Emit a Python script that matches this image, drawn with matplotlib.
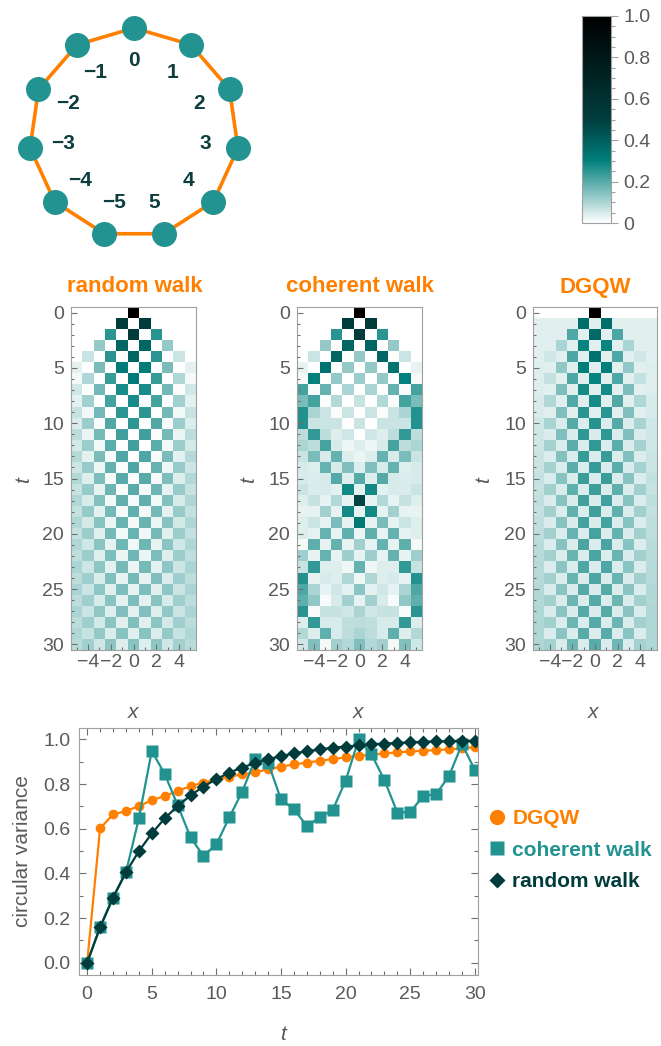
import numpy as np
import matplotlib.pyplot as plt
from matplotlib.colors import LinearSegmentedColormap
from matplotlib.cm import ScalarMappable
from matplotlib.lines import Line2D
from matplotlib.ticker import MultipleLocator, FormatStrFormatter

plt.rcParams['font.family'] = ['Liberation Sans', 'DejaVu Sans']

W, H = 661, 1046

ORANGE = '#ff8000'
TEAL = '#229390'
DARK = '#003c3c'
GRAY = '#5a5a5a'
FRAME = '#a0a0a0'

# sites of the 11-cycle
sites = [-5, -4, -3, -2, -1, 0, 1, 2, 3, 4, 5]

# occupation probabilities for x = 0..5 (the profiles are symmetric in x)
random_half = [
    [1, 0, 0, 0, 0, 0],
    [0, .5, 0, 0, 0, 0],
    [.5, 0, .25, 0, 0, 0],
    [0, .375, 0, .125, 0, 0],
    [.375, 0, .25, 0, .0625, 0],
    [0, .3125, 0, .1563, 0, .0313],
    [.3125, 0, .2344, 0, .0938, .0156],
    [0, .2734, 0, .1641, .0078, .0547],
    [.2734, 0, .2188, .0039, .1094, .0313],
    [0, .2461, .0020, .1641, .0176, .0703],
    [.2461, .0010, .2051, .0098, .1172, .0439],
    [.0010, .2256, .0054, .1611, .0269, .0806],
    [.2256, .0032, .1934, .0161, .1208, .0537],
    [.0032, .2095, .0096, .1571, .0349, .0873],
    [.2095, .0064, .1833, .0223, .1222, .0611],
    [.0064, .1964, .0143, .1527, .0417, .0917],
    [.1964, .0104, .1746, .0280, .1222, .0667],
    [.0104, .1855, .0192, .1484, .0474, .0944],
    [.1855, .0148, .1669, .0333, .1214, .0709],
    [.0148, .1762, .0240, .1442, .0521, .0962],
    [.1762, .0194, .1602, .0381, .1202, .0741],
    [.0194, .1682, .0288, .1402, .0561, .0972],
    [.1682, .0241, .1542, .0424, .1187, .0766],
    [.0241, .1612, .0333, .1364, .0595, .0977],
    [.1612, .0287, .1488, .0464, .1170, .0786],
    [.0287, .1550, .0375, .1329, .0625, .0978],
    [.1550, .0331, .1440, .0500, .1154, .0802],
    [.0331, .1495, .0416, .1297, .0651, .0978],
    [.1495, .0373, .1396, .0533, .1137, .0814],
    [.0373, .1445, .0453, .1267, .0674, .0976],
    [.1445, .0413, .1356, .0564, .1121, .0825],
]

coherent_half = [
    [1, 0, 0, 0, 0, 0],
    [0, .5, 0, 0, 0, 0],
    [.5, 0, .25, 0, 0, 0],
    [0, .375, 0, .125, 0, 0],
    [.125, 0, .375, 0, .0625, 0],
    [0, .125, 0, .34, 0, .03],
    [.12, 0, .125, 0, .3, .015],
    [0, .1, 0, .18, .01, .22],
    [.07, 0, .09, .005, .22, .16],
    [0, .065, .005, .065, .1, .26],
    [.065, 0, .065, .065, .065, .26],
    [0, .055, .04, .08, .24, .08],
    [.04, .02, .05, .22, .08, .1],
    [.025, .04, .18, .05, .16, .065],
    [.04, .15, .05, .18, .04, .05],
    [.2, .04, .2, .05, .045, .05],
    [.035, .28, .035, .05, .045, .065],
    [.48, .03, .09, .03, .07, .04],
    [.03, .28, .03, .11, .03, .03],
    [.32, .03, .16, .03, .065, .04],
    [.025, .19, .03, .18, .03, .04],
    [.11, .03, .18, .03, .19, .015],
    [.03, .115, .03, .18, .03, .115],
    [.18, .02, .04, .04, .24, .07],
    [.02, .095, .04, .05, .03, .26],
    [.14, .035, .055, .03, .1, .21],
    [.03, .11, .05, .008, .13, .19],
    [.1, .055, .07, .07, .01, .25],
    [.08, .075, .05, .05, .24, .04],
    [.1, .08, .05, .19, .04, .09],
    [.15, .09, .11, .015, .15, .055],
]

dgqw_half = [
    [1, 0, 0, 0, 0, 0],
    [.038, .35, .038, .038, .038, .038],
    [.37, .038, .21, .038, .038, .038],
    [.038, .29, .038, .10, .038, .038],
    [.34, .038, .21, .038, .055, .038],
    [.038, .305, .038, .13, .038, .04],
    [.29, .038, .21, .038, .074, .04],
    [.038, .274, .038, .156, .038, .04],
    [.277, .038, .205, .038, .097, .047],
    [.038, .25, .038, .149, .038, .047],
    [.257, .045, .2, .045, .105, .056],
    [.045, .246, .045, .15, .045, .056],
    [.242, .045, .194, .045, .108, .056],
    [.045, .238, .045, .146, .045, .064],
    [.235, .045, .194, .045, .108, .064],
    [.045, .232, .045, .142, .045, .074],
    [.23, .045, .19, .045, .11, .07],
    [.045, .226, .045, .144, .045, .075],
    [.225, .045, .185, .045, .11, .074],
    [.045, .22, .045, .144, .045, .078],
    [.22, .045, .182, .045, .11, .078],
    [.045, .213, .045, .142, .045, .083],
    [.213, .045, .179, .045, .11, .083],
    [.045, .208, .045, .14, .045, .086],
    [.208, .045, .176, .045, .11, .086],
    [.045, .203, .045, .14, .045, .09],
    [.203, .045, .174, .045, .11, .09],
    [.045, .2, .045, .138, .045, .094],
    [.2, .045, .172, .045, .11, .094],
    [.045, .196, .045, .138, .045, .097],
    [.196, .045, .17, .045, .108, .097],
]

# circular variance against time
steps = list(range(31))
cv_dgqw = [0, .601, .664, .679, .701, .728, .746, .769, .791, .806, .821,
           .833, .843, .852, .866, .878, .888, .896, .904, .912, .919,
           .927, .931, .937, .942, .946, .949, .952, .955, .960, .965]
cv_coherent = [0, .158, .290, .404, .646, .948, .845, .706, .561, .478, .530,
               .651, .766, .912, .896, .731, .687, .612, .651, .684, .815,
               1.0, .933, .818, .672, .675, .746, .755, .836, .979, .863]
cv_random = [0, .159, .292, .405, .499, .579, .646, .702, .749, .789, .822,
             .851, .874, .894, .911, .925, .937, .947, .955, .963, .968,
             .973, .978, .981, .984, .987, .989, .991, .992, .993, .994]

cmap = LinearSegmentedColormap.from_list(
    'walk', [(0, '#ffffff'), (0.3, '#00807c'), (0.5, '#003d3d'), (1, '#000000')])

fig = plt.figure(figsize=(W / 100, H / 100), dpi=100)


def box(l, t, r, b):
    return fig.add_axes([l / W, 1 - b / H, (r - l) / W, (b - t) / H])


def ftext(x, y, s, **kw):
    fig.text(x / W, 1 - y / H, s, ha='center', va='center', **kw)


# cycle graph
g = box(0, 0, 265, 265)
g.set_xlim(0, 265)
g.set_ylim(265, 0)
g.axis('off')
cx, cy, rad = 134, 133, 105
ang = np.radians(90 - 360 / 11 * np.array(sites))
nx = cx + rad * np.cos(ang)
ny = cy - rad * np.sin(ang)
g.plot(np.append(nx, nx[0]), np.append(ny, ny[0]), color=ORANGE, lw=2.6, zorder=1)
g.plot(nx, ny, 'o', ms=18, color=TEAL, mec='none', zorder=2)
for s, a in zip(sites, ang):
    g.text(cx + 72 * np.cos(a), cy - 72 * np.sin(a), f'{s}'.replace('-', '\u2212'),
           ha='center', va='center', fontsize=15, fontweight='bold', color='#0d3d3d')

# colour scale
cax = box(582, 16, 611, 223)
cb = fig.colorbar(ScalarMappable(cmap=cmap), cax=cax)
cb.outline.set_edgecolor(FRAME)
cb.outline.set_linewidth(0.8)
cb.set_ticks([0, .2, .4, .6, .8, 1.0])
cb.set_ticklabels(['0', '0.2', '0.4', '0.6', '0.8', '1.0'])
cax.yaxis.set_minor_locator(MultipleLocator(0.05))
cax.tick_params(which='both', colors=FRAME, labelcolor=GRAY, labelsize=14, width=0.8)
cax.tick_params(which='major', length=5, pad=4)
cax.tick_params(which='minor', length=3)

# probability heatmaps
panels = [
    ('random walk', random_half, (71, 196), 135, 24),
    ('coherent walk', coherent_half, (297, 422), 360, 249),
    ('DGQW', dgqw_half, (533, 657), 595, 484),
]
for title, half, (left, right), tx, lx in panels:
    ax = box(left, 307, right, 650)
    grid = np.array([row[:0:-1] + row for row in half])
    ax.imshow(grid, cmap=cmap, vmin=0, vmax=1, aspect='auto', interpolation='nearest',
              extent=(sites[0] - .5, sites[-1] + .5, len(half) - .5, -.5))
    ax.set_xticks([-4, -2, 0, 2, 4])
    ax.set_yticks([0, 5, 10, 15, 20, 25, 30])
    ax.xaxis.set_minor_locator(MultipleLocator(1))
    ax.yaxis.set_minor_locator(MultipleLocator(1))
    ax.tick_params(which='both', direction='in', colors='#707070', labelcolor=GRAY,
                   labelsize=14, width=0.8)
    ax.tick_params(axis='y', which='major', length=4, pad=5)
    ax.tick_params(axis='x', which='major', length=4, pad=3)
    ax.tick_params(which='minor', length=2.5)
    for sp in ax.spines.values():
        sp.set_color(FRAME)
        sp.set_linewidth(0.8)
    ftext(tx, 287, title, color=ORANGE, fontsize=16, fontweight='bold')
    ftext(lx, 480, 't', color=GRAY, fontsize=15, style='italic', rotation=90)
    ftext(tx - 2, 712, 'x', color=GRAY, fontsize=15, style='italic')

# circular variance
ax = box(79, 728, 478, 975)
ax.plot(steps, cv_dgqw, '-o', color=ORANGE, ms=7, lw=1.6, mec='none')
ax.plot(steps, cv_coherent, '-s', color=TEAL, ms=8.5, lw=1.6, mec='none')
ax.plot(steps, cv_random, '-D', color=DARK, ms=7, lw=1.6, mec='none')
ax.set_xlim(-0.63, 30.24)
ax.set_ylim(-0.055, 1.051)
ax.xaxis.set_major_locator(MultipleLocator(5))
ax.xaxis.set_minor_locator(MultipleLocator(1))
ax.yaxis.set_major_locator(MultipleLocator(0.2))
ax.yaxis.set_minor_locator(MultipleLocator(0.1))
ax.yaxis.set_major_formatter(FormatStrFormatter('%.1f'))
ax.tick_params(which='both', direction='in', top=True, right=True, colors='#707070',
               labelcolor=GRAY, labelsize=14, width=0.8)
ax.tick_params(which='major', length=5)
ax.tick_params(axis='x', which='major', pad=8)
ax.tick_params(axis='y', which='major', pad=6)
ax.tick_params(which='minor', length=3)
for sp in ax.spines.values():
    sp.set_color(FRAME)
    sp.set_linewidth(0.8)
ax.set_ylabel('circular variance', color=GRAY, fontsize=15, labelpad=8)
ftext(283, 1035, 't', color=GRAY, fontsize=15, style='italic')

handles = [
    Line2D([], [], marker='o', ls='none', color=ORANGE, ms=11, mec='none'),
    Line2D([], [], marker='s', ls='none', color=TEAL, ms=10, mec='none'),
    Line2D([], [], marker='D', ls='none', color=DARK, ms=8, mec='none'),
]
ax.legend(handles, ['DGQW', 'coherent walk', 'random walk'], loc='center left',
          bbox_to_anchor=(1.005, 0.505), frameon=False, handlelength=0.8,
          handletextpad=0.35, labelspacing=0.6, borderaxespad=0,
          prop={'size': 15, 'weight': 'bold'},
          labelcolor=[ORANGE, TEAL, DARK])

fig.savefig('out.png', dpi=100)
